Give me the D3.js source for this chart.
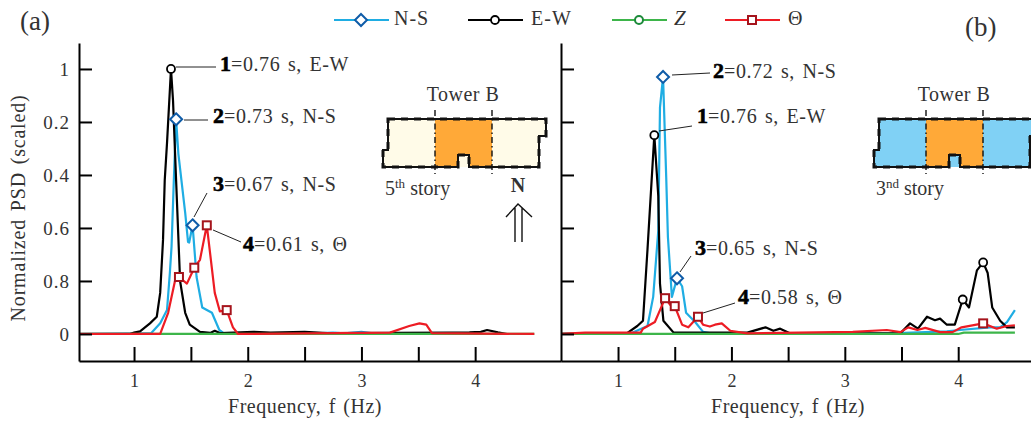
<!DOCTYPE html>
<html>
<head>
<meta charset="utf-8">
<script src="https://cdn.jsdelivr.net/npm/d3@7"></script>
<style>
html, body { margin: 0; padding: 0; background: #fff; }
svg { display: block; }
text { font-family: "Liberation Serif", serif; fill: #333; }
</style>
</head>
<body>
<div id="container"></div>
<script>
// values, [frequency, normalized psd]
const nsA = [[0.516,0],[1.15,0.003],[1.23,0.04],[1.29,0.09],[1.315,0.23],[1.33,0.33],[1.35,0.58],[1.37,0.81],[1.39,0.68],[1.45,0.457],[1.475,0.347],[1.485,0.345],[1.515,0.41],[1.55,0.215],[1.6,0.1],[1.685,0.08],[1.75,0.015],[1.79,0.002],[2.6,0.002],[2.75,0.005],[2.85,0.002],[3.0,0.008],[3.1,0.002],[3.3,0]];
const ewA = [[0.965,0],[1.0,0.005],[1.053,0.01],[1.14,0.04],[1.2,0.065],[1.23,0.155],[1.255,0.355],[1.27,0.58],[1.29,0.72],[1.325,1],[1.343,0.88],[1.37,0.58],[1.405,0.2],[1.45,0.08],[1.49,0.035],[1.58,0.008],[1.67,0.004],[1.71,0.012],[1.76,0.003],[2.05,0.008],[2.2,0.005],[2.5,0.008],[2.7,0.003],[3.3,0.004],[3.8,0.005],[3.95,0.006],[4.05,0.008],[4.105,0.015],[4.2,0.006],[4.28,0]];
const zA = [[0.516,0],[4.52,0]];
const thetaA = [[0.516,0],[1.23,0],[1.3,0.08],[1.36,0.2],[1.395,0.215],[1.465,0.19],[1.53,0.25],[1.58,0.28],[1.64,0.41],[1.71,0.155],[1.755,0.085],[1.815,0.09],[1.87,0.025],[1.915,0],[3.25,0.005],[3.42,0.03],[3.51,0.04],[3.57,0.035],[3.62,0.003],[4.52,0]];

const nsB = [[0.497,0],[1.11,0.002],[1.26,0.03],[1.31,0.14],[1.355,0.39],[1.37,0.855],[1.397,0.97],[1.425,0.59],[1.44,0.365],[1.475,0.14],[1.52,0.21],[1.565,0.18],[1.6,0.08],[1.68,0.045],[1.75,0.008],[1.85,0],[3.4,0.002],[3.9,0.01],[4.015,0.015],[4.28,0.025],[4.37,0.025],[4.43,0.045],[4.5,0.09]];
const ewB = [[0.497,0],[1.08,0.003],[1.17,0.03],[1.22,0.05],[1.26,0.32],[1.32,0.75],[1.355,0.52],[1.37,0.19],[1.4,0.05],[1.49,0.005],[2.14,0.005],[2.3,0.025],[2.37,0.012],[2.43,0.02],[2.52,0.002],[3.49,0.003],[3.575,0.04],[3.645,0.02],[3.725,0.065],[3.795,0.052],[3.84,0.058],[3.9,0.035],[3.97,0.035],[4.04,0.13],[4.095,0.1],[4.165,0.24],[4.22,0.27],[4.26,0.23],[4.3,0.1],[4.37,0.05],[4.43,0.025],[4.5,0.025]];
const zB = [[0.497,0],[4.0,0],[4.05,0.005],[4.5,0.005]];
const thetaB = [[0.497,0],[0.71,0.005],[1.2,0.005],[1.22,0.02],[1.325,0.045],[1.37,0.09],[1.415,0.135],[1.46,0.11],[1.5,0.105],[1.565,0.035],[1.62,0.025],[1.705,0.065],[1.75,0.035],[1.81,0.028],[1.855,0.035],[1.915,0.04],[1.99,0.012],[2.14,0.002],[3.07,0.008],[3.37,0.015],[3.49,0.007],[3.56,0.025],[3.64,0.015],[3.71,0.023],[3.84,0.007],[3.95,0.007],[4.03,0.025],[4.22,0.04],[4.34,0.02],[4.43,0.03],[4.5,0.033]];

// the points that carry a marker
const nsMarksA = [[1.37,0.81],[1.515,0.41]];
const ewMarksA = [[1.325,1]];
const thetaMarksA = [[1.395,0.215],[1.53,0.25],[1.64,0.41],[1.815,0.09]];
const nsMarksB = [[1.397,0.97],[1.52,0.21]];
const ewMarksB = [[1.32,0.75],[4.04,0.13],[4.22,0.27]];
const thetaMarksB = [[1.415,0.135],[1.5,0.105],[1.705,0.065],[4.22,0.04]];

const xTicks = [1,1.5,2,2.5,3,3.5,4];
const yTicks = [0,0.2,0.4,0.6,0.8,1];
const yTickLabels = ["0","0.8","0.6","0.4","0.2","1"]; // as printed on the figure

const blue = "#1fade3", black = "#000", green = "#3db54a", red = "#ed1c24";
const blueMark = "#0f5ca8", redMark = "#a5141c";

var svg = d3.select("div#container").append("svg")
  .attr("width", 1031).attr("height", 421);

var y = d3.scaleLinear().domain([-0.102, 1.098]).range([361, 43]);
var xA = d3.scaleLinear().domain([0.516, 4.755]).range([79, 561]);
var xB = d3.scaleLinear().domain([0.497, 4.642]).range([561, 1031]);

function xAxis(x) {
  var g = svg.append("g").attr("transform", "translate(0,361)")
    .call(d3.axisBottom(x).tickValues(xTicks).tickSizeInner(-14).tickSizeOuter(0).tickPadding(13)
      .tickFormat(d => Number.isInteger(d) ? d : ""));
  g.selectAll("path,line").attr("stroke", "#000").attr("stroke-width", 2);
  g.selectAll("text").attr("font-size", 18).attr("font-family", "Liberation Serif").attr("fill", "#333");
}

function yAxis(px, labelled) {
  var g = svg.append("g").attr("transform", "translate(" + px + ",0)")
    .call(d3.axisLeft(y).tickValues(yTicks).tickSizeInner(-13).tickSizeOuter(0).tickPadding(9)
      .tickFormat((d, i) => labelled ? yTickLabels[i] : ""));
  g.selectAll("path,line").attr("stroke", "#000").attr("stroke-width", 2);
  g.selectAll("text").attr("font-size", 19).attr("letter-spacing", 1).attr("font-family", "Liberation Serif").attr("fill", "#333");
}

function curve(x, data, color) {
  svg.append("path").datum(data)
    .attr("fill", "none").attr("stroke", color).attr("stroke-width", 2.2)
    .attr("stroke-linejoin", "round")
    .attr("d", d3.line().x(d => x(d[0])).y(d => y(d[1])));
}

function marker(px, py, kind) {
  if (kind == "diamond") {
    svg.append("path").attr("d", "M0,-6L6,0L0,6L-6,0Z")
      .attr("transform", "translate(" + px + "," + py + ")")
      .attr("fill", "#fff").attr("stroke", blueMark).attr("stroke-width", 2);
  } else if (kind == "circle") {
    svg.append("circle").attr("cx", px).attr("cy", py).attr("r", 4)
      .attr("fill", "#fff").attr("stroke", black).attr("stroke-width", 1.8);
  } else if (kind == "greenCircle") {
    svg.append("circle").attr("cx", px).attr("cy", py).attr("r", 4)
      .attr("fill", "#fff").attr("stroke", "#1c8a3a").attr("stroke-width", 2);
  } else {
    svg.append("rect").attr("x", px - 4).attr("y", py - 4).attr("width", 8).attr("height", 8)
      .attr("fill", "#fff").attr("stroke", redMark).attr("stroke-width", 2);
  }
}

function panel(x, ns, ew, z, th, nsM, ewM, thM) {
  curve(x, ns, blue);
  curve(x, ew, black);
  curve(x, z, green);
  curve(x, th, red);
  nsM.forEach(d => marker(x(d[0]), y(d[1]), "diamond"));
  ewM.forEach(d => marker(x(d[0]), y(d[1]), "circle"));
  thM.forEach(d => marker(x(d[0]), y(d[1]), "square"));
}

panel(xA, nsA, ewA, zA, thetaA, nsMarksA, ewMarksA, thetaMarksA);
panel(xB, nsB, ewB, zB, thetaB, nsMarksB, ewMarksB, thetaMarksB);
xAxis(xA);
xAxis(xB);
yAxis(79, true);
yAxis(561, false);

// leader lines and mode labels
const notes = [
  {n:"1", rest:"=0.76 s, E-W", tx:220, ty:71, l:[176,67,216,67]},
  {n:"2", rest:"=0.73 s, N-S", tx:213, ty:123, l:[184,120,208,120]},
  {n:"3", rest:"=0.67 s, N-S", tx:213, ty:191, l:[194,217,207,193]},
  {n:"4", rest:"=0.61 s, Θ", tx:243, ty:251, l:[213,230,241,242]},
  {n:"2", rest:"=0.72 s, N-S", tx:713, ty:78, l:[672,75,710,73]},
  {n:"1", rest:"=0.76 s, E-W", tx:697, ty:123, l:[659,131,692,126]},
  {n:"3", rest:"=0.65 s, N-S", tx:695, ty:255, l:[680,272,691,256]},
  {n:"4", rest:"=0.58 s, Θ", tx:738, ty:304, l:[703,313,735,303]}
];
notes.forEach(function(d) {
  svg.append("line").attr("x1", d.l[0]).attr("y1", d.l[1]).attr("x2", d.l[2]).attr("y2", d.l[3])
    .attr("stroke", "#222").attr("stroke-width", 1);
  var t = svg.append("text").attr("x", d.tx).attr("y", d.ty).attr("font-size", 20);
  t.append("tspan").attr("font-weight", "bold").attr("font-size", 22)
    .style("fill", "#000").style("stroke", "#000").style("stroke-width", 0.6).text(d.n);
  t.append("tspan").attr("letter-spacing", 0.6).attr("word-spacing", 2).text(d.rest);
});

// legend
const legendItems = [
  {label:"N-S", c:blue, k:"diamond", x:334, tx:394},
  {label:"E-W", c:black, k:"circle", x:468, tx:531},
  {label:"Z", c:green, k:"greenCircle", x:612, tx:674, it:true},
  {label:"Θ", c:red, k:"square", x:725, tx:788}
];
legendItems.forEach(function(d) {
  svg.append("line").attr("x1", d.x).attr("x2", d.x + 55).attr("y1", 20).attr("y2", 20)
    .attr("stroke", d.c).attr("stroke-width", 2);
  marker(d.x + 27, 20, d.k);
  svg.append("text").attr("x", d.tx).attr("y", 25).attr("font-size", d.it ? 21 : 20)
    .attr("letter-spacing", 1).attr("font-style", d.it ? "italic" : null).text(d.label);
});

// floor plan insets
const planFill = "M5,0H163V17H156V48H0V31H5Z";
const planCore = "M52,0H109V48H86V36H75V48H52Z";
const planEdge = "M5,0H163V17H156V48H86V36H75V48H0V31H5Z";
function plan(ox, sideColor, story, sup, rest) {
  var g = svg.append("g").attr("transform", "translate(" + ox + ",119)");
  g.append("path").attr("d", planFill).attr("fill", sideColor);
  g.append("path").attr("d", planCore).attr("fill", "#ffa938");
  g.append("path").attr("d", planEdge)
    .attr("fill", "none").attr("stroke", "#111").attr("stroke-width", 2);
  // the wall edge is stepped in the drawing
  g.append("path").attr("d", planEdge)
    .attr("fill", "none").attr("stroke", "#111").attr("stroke-width", 3).attr("stroke-dasharray", "7,6");
  [52, 109].forEach(function(px) {
    g.append("line").attr("x1", px).attr("x2", px).attr("y1", -9).attr("y2", 55)
      .attr("stroke", "#111").attr("stroke-width", 1.4).attr("stroke-dasharray", "6,3,1.5,3");
  });
  svg.append("text").attr("x", ox + 80).attr("y", 101).attr("text-anchor", "middle")
    .attr("font-size", 20).attr("letter-spacing", 0.5).text("Tower B");
  var t = svg.append("text").attr("x", ox + 2).attr("y", 195).attr("font-size", 20);
  t.append("tspan").text(story);
  t.append("tspan").attr("font-size", 13).attr("dy", -7).text(sup);
  t.append("tspan").attr("dy", 7).text(" " + rest);
}
plan(383, "#fffbe8", "5", "th", "story");
plan(874, "#80d1f5", "3", "nd", "story");

// north arrow
svg.append("text").attr("x", 518).attr("y", 192).attr("text-anchor", "middle")
  .attr("font-size", 20).attr("font-weight", "bold").text("N");
svg.append("path").attr("d", "M506,217L518,204L532,217M515,208V242M522,208V242")
  .attr("fill", "none").attr("stroke", "#111").attr("stroke-width", 1.4);

// panel tags and axis titles
svg.append("text").attr("x", 20).attr("y", 30).attr("font-size", 27).text("(a)");
svg.append("text").attr("x", 965).attr("y", 36).attr("font-size", 27).text("(b)");
svg.append("text").attr("transform", "translate(25,208) rotate(-90)").attr("text-anchor", "middle")
  .attr("font-size", 20).attr("letter-spacing", 0.8).attr("word-spacing", 2).text("Normalized PSD (scaled)");
svg.append("text").attr("x", 305).attr("y", 413).attr("text-anchor", "middle")
  .attr("font-size", 20).attr("letter-spacing", 0.5).attr("word-spacing", 2).text("Frequency, f (Hz)");
svg.append("text").attr("x", 788).attr("y", 413).attr("text-anchor", "middle")
  .attr("font-size", 20).attr("letter-spacing", 0.5).attr("word-spacing", 2).text("Frequency, f (Hz)");
</script>
</body>
</html>
